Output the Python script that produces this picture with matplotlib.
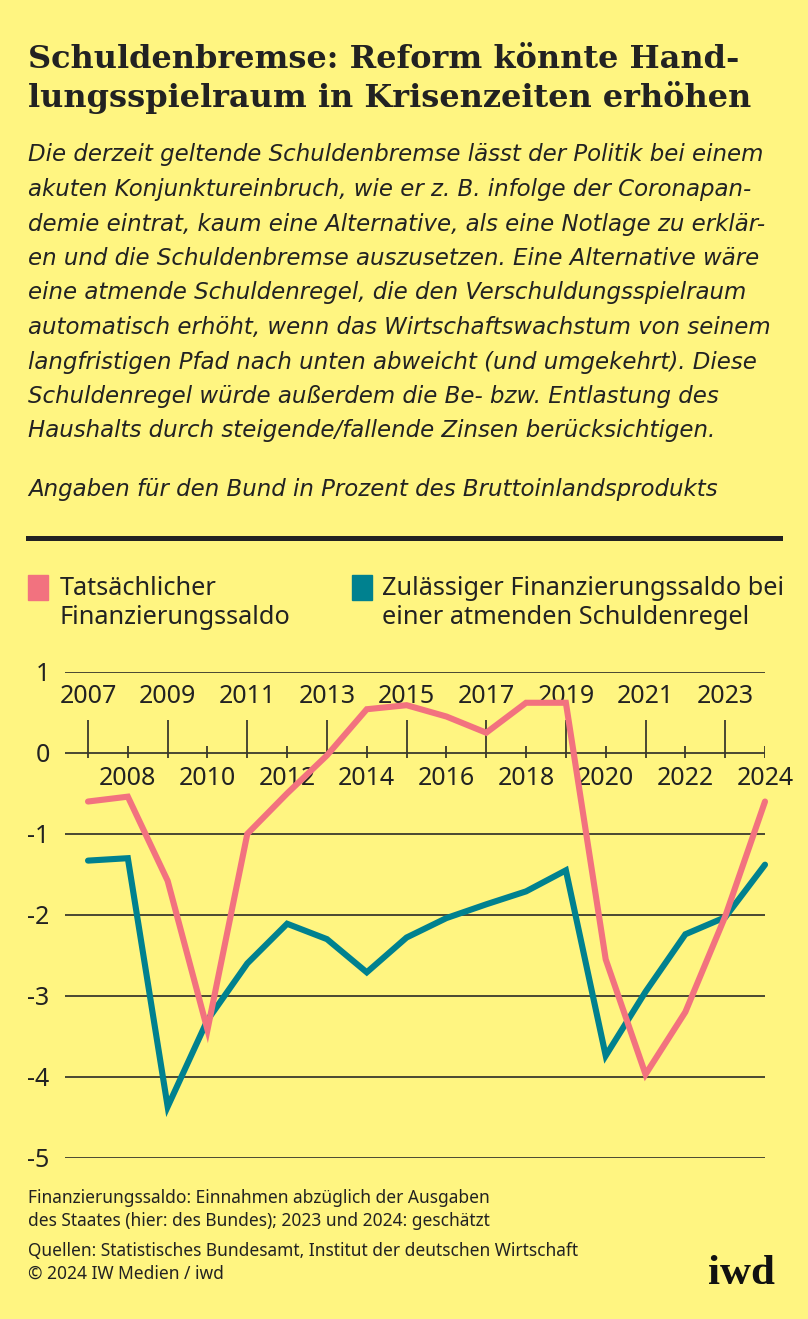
import matplotlib
matplotlib.use('Agg')
import matplotlib.pyplot as plt

# data (Bund, % of GDP)
years = list(range(2007, 2025))
actual = [-0.6, -0.54, -1.58, -3.42, -1.0, -0.5, -0.03, 0.54, 0.59, 0.45, 0.25, 0.62, 0.62,
          -2.55, -3.97, -3.2, -2.02, -0.6]
breathing = [-1.33, -1.30, -4.37, -3.3, -2.6, -2.11, -2.3, -2.71, -2.28, -2.04, -1.87, -1.71, -1.45,
             -3.74, -2.95, -2.24, -2.03, -1.38]
yticks = [1, 0, -1, -2, -3, -4, -5]

title = "Schuldenbremse: Reform könnte Hand-\nlungsspielraum in Krisenzeiten erhöhen"
intro = ["Die derzeit geltende Schuldenbremse lässt der Politik bei einem",
         "akuten Konjunktureinbruch, wie er z. B. infolge der Coronapan-",
         "demie eintrat, kaum eine Alternative, als eine Notlage zu erklär-",
         "en und die Schuldenbremse auszusetzen. Eine Alternative wäre",
         "eine atmende Schuldenregel, die den Verschuldungsspielraum",
         "automatisch erhöht, wenn das Wirtschaftswachstum von seinem",
         "langfristigen Pfad nach unten abweicht (und umgekehrt). Diese",
         "Schuldenregel würde außerdem die Be- bzw. Entlastung des",
         "Haushalts durch steigende/fallende Zinsen berücksichtigen."]
unit = "Angaben für den Bund in Prozent des Bruttoinlandsprodukts"
leg1 = "Tatsächlicher\nFinanzierungssaldo"
leg2 = "Zulässiger Finanzierungssaldo bei\neiner atmenden Schuldenregel"
note = "Finanzierungssaldo: Einnahmen abzüglich der Ausgaben\ndes Staates (hier: des Bundes); 2023 und 2024: geschätzt"
source = "Quellen: Statistisches Bundesamt, Institut der deutschen Wirtschaft\n© 2024 IW Medien / iwd"

BG = '#FFF581'
PINK = '#F2727F'
TEAL = '#00818F'
INK = '#222222'
NARROW = dict(family='Noto Sans', fontstretch='condensed')

W, H = 808, 1319
fig = plt.figure(figsize=(W / 100, H / 100), dpi=100, facecolor=BG)

def fy(px):
    return 1 - px / H

def fx(px):
    return px / W

# header
fig.text(fx(28), fy(44), title, fontsize=23, fontweight='bold', family='DejaVu Serif',
         color=INK, va='top', linespacing=1.25)
for i, line in enumerate(intro):
    fig.text(fx(28), fy(155 + i * 34.5), line, fontsize=16.5, style='italic',
             family='DejaVu Sans', color=INK, va='center')
fig.text(fx(28), fy(490), unit, fontsize=16.5, style='italic', family='DejaVu Sans',
         color=INK, va='center')
fig.add_artist(plt.Line2D([fx(28), fx(780)], [fy(538), fy(538)], color=INK, lw=3.6))

# legend
fig.add_artist(plt.Rectangle((fx(28), fy(600)), fx(20), 25 / H, color=PINK))
fig.text(fx(60), fy(576), leg1, fontsize=18.2, color=INK, va='top',
         linespacing=1.2, **NARROW)
fig.add_artist(plt.Rectangle((fx(352), fy(600)), fx(20), 25 / H, color=TEAL))
fig.text(fx(382), fy(576), leg2, fontsize=18.2, color=INK, va='top',
         linespacing=1.2, **NARROW)

# chart
ax = fig.add_axes([fx(65), fy(1157.7), fx(700), (1157.7 - 672) / H])
ax.set_facecolor(BG)
ax.set_xlim(2007 - 23 / 39.8, 2024)
ax.set_ylim(-5, 1)
for s in ax.spines.values():
    s.set_visible(False)
ax.set_yticks(yticks)
ax.set_yticklabels([str(v) for v in yticks])
ax.set_xticks([])
ax.tick_params(axis='y', length=0, pad=11, labelsize=18, labelcolor=INK)
for lab in ax.get_yticklabels():
    lab.set_family('Noto Sans')
    lab.set_fontstretch('condensed')
ax.yaxis.grid(True, color='#3b3a2c', lw=1.3)
ax.set_axisbelow(True)

odd = [y for y in years if y % 2 == 1]
even = [y for y in years if y % 2 == 0]
ax.vlines(odd, -0.06, 0.41, color='#3b3a2c', lw=1.3)
ax.vlines(even, -0.06, 0.09, color='#3b3a2c', lw=1.3)
for y in odd:
    ax.annotate(str(y), (y, 0), xytext=(0, 41), textcoords='offset points',
                ha='center', va='center', fontsize=18, color=INK, **NARROW)
for y in even:
    ax.annotate(str(y), (y, 0), xytext=(0, -18.5), textcoords='offset points',
                ha='center', va='center', fontsize=18, color=INK, **NARROW)

ax.plot(years, breathing, color=TEAL, lw=4.4, solid_capstyle='round',
        solid_joinstyle='miter', clip_on=False, zorder=3)
ax.plot(years, actual, color=PINK, lw=4.4, solid_capstyle='round',
        solid_joinstyle='miter', clip_on=False, zorder=4)

# footer
fig.text(fx(28), fy(1189), note, fontsize=12.5, color=INK, va='top',
         linespacing=1.35, **NARROW)
fig.text(fx(28), fy(1242), source, fontsize=12.5, color=INK, va='top',
         linespacing=1.35, **NARROW)
fig.text(fx(775), fy(1284), "iwd", fontsize=31, fontweight='bold', family='Liberation Serif',
         color='#111111', ha='right', va='baseline')

fig.savefig('out.png', dpi=100, facecolor=BG)
